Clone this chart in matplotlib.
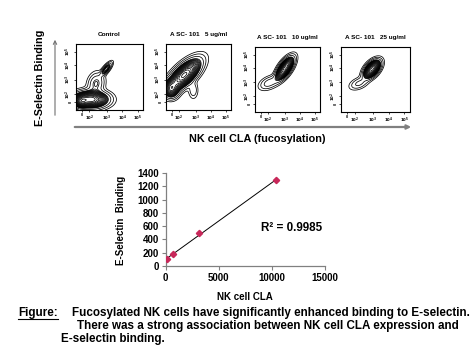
import numpy as np
import matplotlib
matplotlib.use("Agg")
import matplotlib.pyplot as plt
from matplotlib.patches import FancyArrowPatch

plt.rcParams['font.family'] = ['Liberation Sans', 'DejaVu Sans']
plt.rcParams['font.weight'] = 'bold'

# ---------------- data ----------------
panel_titles = ["Control", "A SC- 101   5 ug/ml", "A SC- 101   10 ug/ml", "A SC- 101   25 ug/ml"]
flow_tick_labels = ["0", "$10^2$", "$10^3$", "$10^4$", "$10^5$"]
flow_xtick_pos = [0.09, 0.20, 0.46, 0.69, 0.92]
flow_ytick_pos = [0.12, 0.24, 0.46, 0.68, 0.88]

# population clusters (axes-fraction units):
# (cx, cy, s_major, s_minor, angle_deg, weight)
control_pops = [(0.22, 0.16, 0.13, 0.065, 0, 1.0),
                (0.08, 0.13, 0.05, 0.05, 0, 0.5),
                (0.30, 0.40, 0.09, 0.065, 75, 0.16),
                (0.45, 0.62, 0.065, 0.024, 52, 0.30)]
asc5_pops = [(0.28, 0.53, 0.16, 0.07, 43, 1.0),
             (0.08, 0.32, 0.06, 0.07, 0, 0.5),
             (0.42, 0.30, 0.04, 0.07, 0, 0.06)]
asc10_pops = [(0.46, 0.67, 0.10, 0.044, 55, 1.0),
              (0.22, 0.45, 0.09, 0.05, 25, 0.10)]
asc25_pops = [(0.45, 0.66, 0.08, 0.045, 52, 1.0),
              (0.26, 0.44, 0.08, 0.045, 25, 0.08)]
all_pops = [control_pops, asc5_pops, asc10_pops, asc25_pops]

cla = [150, 690, 3125, 10375]
binding = [100, 180, 490, 1290]
r2_text = "R² = 0.9985"

# ---------------- figure ----------------
W, H = 477, 359
fig = plt.figure(figsize=(W / 100, H / 100), dpi=100)
fig.patch.set_facecolor('white')

def fx(px):
    return px / W

def fy(py):
    return 1 - py / H

panel_boxes = [(76, 44, 143, 110), (166, 44, 231, 110), (255, 47, 320, 112), (341, 47, 410, 112)]

g = np.linspace(0, 1, 400)
X, Y = np.meshgrid(g, g)

def blob(cx, cy, sa, sb, ang):
    t = np.deg2rad(ang)
    dx, dy = X - cx, Y - cy
    u = dx * np.cos(t) + dy * np.sin(t)
    v = -dx * np.sin(t) + dy * np.cos(t)
    return np.exp(-0.5 * ((u / sa) ** 2 + (v / sb) ** 2))

level_fracs = np.concatenate([[0.012, 0.03, 0.065], np.geomspace(0.12, 0.95, 15)])

for i, (box, pops) in enumerate(zip(panel_boxes, all_pops)):
    x0, y0, x1, y1 = box
    ax = fig.add_axes([fx(x0), fy(y1), fx(x1) - fx(x0), fy(y0) - fy(y1)])
    Z = np.zeros_like(X)
    for (cx, cy, sa, sb, ang, w) in pops:
        Z += w * blob(cx, cy, sa, sb, ang)
    ax.contour(X, Y, Z, levels=Z.max() * level_fracs, colors='black', linewidths=0.55)
    ax.set_xlim(0, 1)
    ax.set_ylim(0, 1)
    ax.set_xticks(flow_xtick_pos)
    ax.set_xticklabels(flow_tick_labels, fontsize=2.8)
    ax.set_yticks(flow_ytick_pos)
    ax.set_yticklabels(flow_tick_labels, fontsize=2.8, rotation=90, va='center')
    ax.tick_params(length=1.5, width=0.5, pad=1)
    for s in ax.spines.values():
        s.set_linewidth(0.8)
    ax.set_title(panel_titles[i], fontsize=4.6, fontweight='bold', pad=6)

# axes arrows for flow panels
fig.add_artist(FancyArrowPatch((fx(55), fy(118)), (fx(55), fy(37)), transform=fig.transFigure,
                               arrowstyle='->', mutation_scale=6, color='#707070', lw=0.8))
fig.add_artist(FancyArrowPatch((fx(72), fy(127)), (fx(414), fy(127)), transform=fig.transFigure,
                               arrowstyle='->', mutation_scale=6, color='#808080', lw=1.6))
fig.text(fx(40), fy(78), "E-Selectin Binding", rotation=90, ha='center', va='center',
         fontsize=7.8, fontweight='bold')
fig.text(fx(257), fy(139), "NK cell CLA (fucosylation)", ha='center', va='center',
         fontsize=7.8, fontweight='bold')

# ---------------- scatter plot ----------------
bx = fig.add_axes([fx(165.7), fy(266), fx(325) - fx(165.7), fy(173) - fy(266)])
m, b = np.polyfit(cla, binding, 1)
xl = np.array([min(cla), max(cla)])
bx.plot(xl, m * xl + b, color='black', lw=0.7, zorder=2)
bx.plot(cla, binding, linestyle='none', marker='D', markersize=3.2, color='#c8285a', zorder=3)
bx.set_xlim(0, 15000)
bx.set_ylim(0, 1400)
bx.set_xticks([0, 5000, 10000, 15000])
bx.set_yticks(range(0, 1401, 200))
bx.tick_params(labelsize=7, length=3, width=0.8, color='#808080', direction='out', pad=2)
for lab in bx.get_xticklabels() + bx.get_yticklabels():
    lab.set_fontweight('bold')
for s in ['top', 'right']:
    bx.spines[s].set_visible(False)
for s in ['left', 'bottom']:
    bx.spines[s].set_color('#808080')
    bx.spines[s].set_linewidth(0.9)
bx.text(0.60, 0.41, r2_text, transform=bx.transAxes, fontsize=8.4, fontweight='bold', va='center')
fig.text(fx(245), fy(297), "NK cell CLA", ha='center', va='center', fontsize=7, fontweight='bold')
fig.text(fx(121.5), fy(220), "E-Selectin  Binding", rotation=90, ha='center', va='center',
         fontsize=7, fontweight='bold')

# ---------------- caption ----------------
cap_fs = 8.35
fig.text(fx(18), fy(313), "Figure:", ha='left', va='center', fontsize=cap_fs, fontweight='bold')
fig.add_artist(plt.Line2D([fx(18), fx(58)], [fy(319), fy(319)], color='black', lw=0.8))
fig.text(fx(72), fy(313), "Fucosylated NK cells have significantly enhanced binding to E-selectin.",
         ha='left', va='center', fontsize=cap_fs, fontweight='bold')
fig.text(fx(77), fy(326), "There was a strong association between NK cell CLA expression and",
         ha='left', va='center', fontsize=cap_fs, fontweight='bold')
fig.text(fx(61), fy(339), "E-selectin binding.", ha='left', va='center', fontsize=cap_fs, fontweight='bold')

fig.savefig("out.png", dpi=100, facecolor='white')
